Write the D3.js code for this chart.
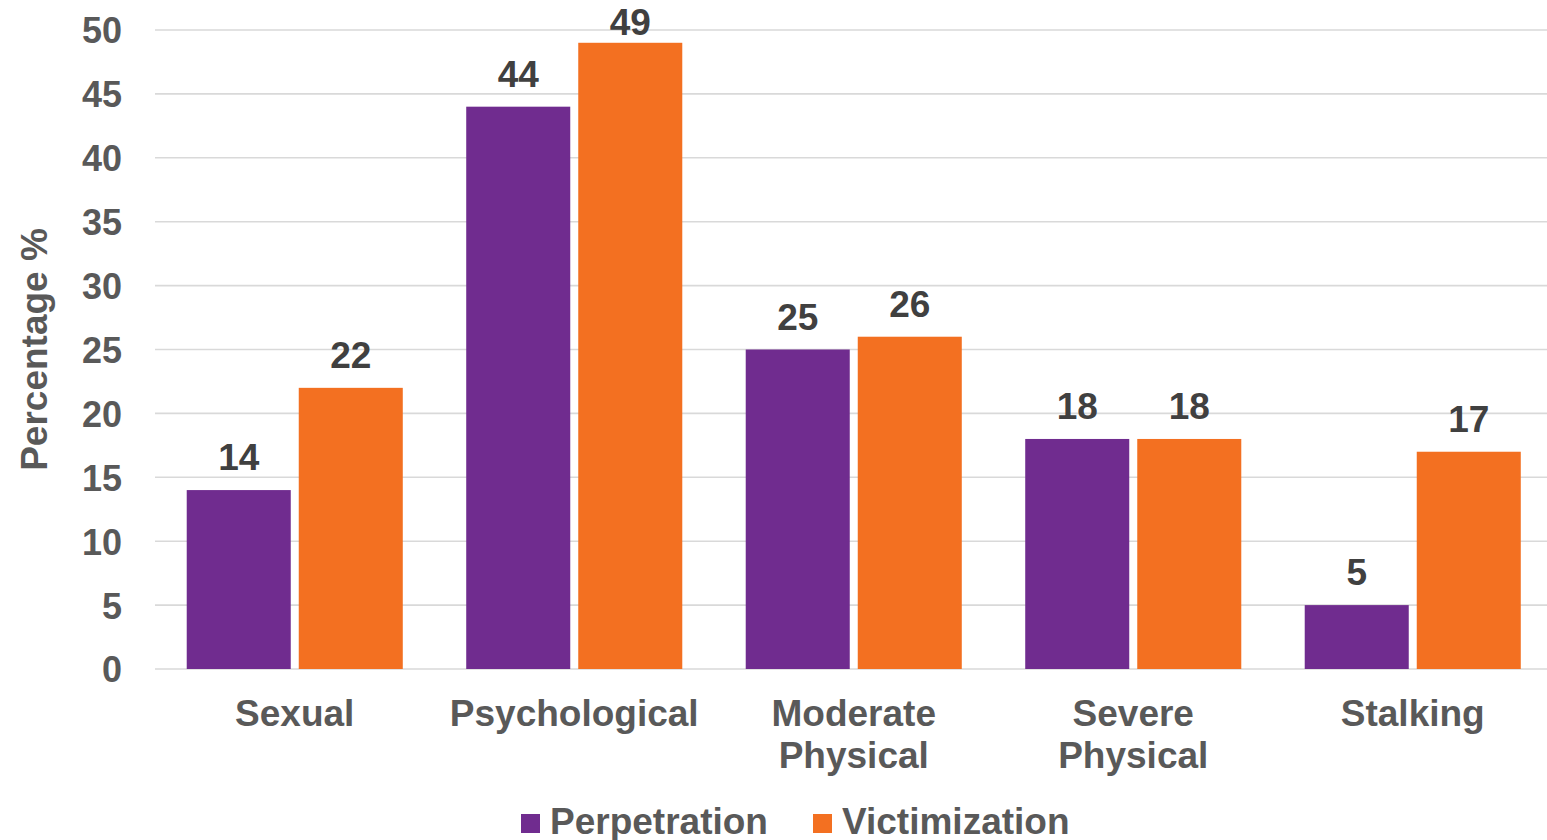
<!DOCTYPE html>
<html>
<head>
<meta charset="utf-8">
<script src="https://cdn.jsdelivr.net/npm/d3@7"></script>
<style>
  html, body { margin: 0; padding: 0; background: #fff; }
  svg { display: block; font-family: Arial, "Liberation Sans", sans-serif; font-weight: bold; }
</style>
</head>
<body>
<svg id="chart" width="1547" height="840"></svg>
<script>
// Abuse types and prevalence (%) by role
const categories = [["Sexual"], ["Psychological"], ["Moderate", "Physical"], ["Severe", "Physical"], ["Stalking"]];
const seriesNames = ["Perpetration", "Victimization"];
const perpetration = [14, 44, 25, 18, 5];
const victimization = [22, 49, 26, 18, 17];
const yTicks = [0, 5, 10, 15, 20, 25, 30, 35, 40, 45, 50];
const colors = ["#702C8F", "#F37021"];

const svg = d3.select("#chart");
const plot = { left: 155, right: 1552.5, top: 30, bottom: 669 };

const catKeys = categories.map(c => c.join(" "));
const values = [perpetration, victimization];

const x0 = d3.scaleBand()
  .domain(catKeys)
  .range([plot.left, plot.right])
  .paddingInner(0.227)
  .paddingOuter(0.1135);

const x1 = d3.scaleBand()
  .domain(seriesNames)
  .range([0, x0.bandwidth()])
  .paddingInner(0.0714);

const y = d3.scaleLinear().domain([0, 50]).range([plot.bottom, plot.top]);

// Gridlines
svg.append("g")
  .selectAll("line")
  .data(yTicks)
  .join("line")
  .attr("x1", plot.left).attr("x2", 1547)
  .attr("y1", d => y(d)).attr("y2", d => y(d))
  .attr("stroke", "#D9D9D9")
  .attr("stroke-width", 1.6);

// Y axis tick labels
const yAxis = d3.axisLeft(y).tickValues(yTicks).tickSize(0).tickPadding(0);
const yg = svg.append("g").attr("transform", "translate(122,0)").call(yAxis);
yg.select(".domain").remove();
yg.selectAll("text")
  .attr("font-family", "Arial, 'Liberation Sans', sans-serif")
  .attr("font-weight", "bold")
  .attr("font-size", 36)
  .attr("fill", "#595959")
  .attr("dy", "0.36em");

// Y axis title
svg.append("text")
  .attr("transform", `translate(47,${(plot.top + plot.bottom) / 2}) rotate(-90)`)
  .attr("text-anchor", "middle")
  .attr("font-size", 37)
  .attr("fill", "#595959")
  .text("Percentage %");

// Bars
const groups = svg.append("g")
  .selectAll("g")
  .data(catKeys)
  .join("g")
  .attr("transform", d => `translate(${x0(d)},0)`);

groups.each(function(cat, ci) {
  const g = d3.select(this);
  seriesNames.forEach((s, si) => {
    const v = values[si][ci];
    g.append("rect")
      .attr("x", x1(s))
      .attr("y", y(v))
      .attr("width", x1.bandwidth())
      .attr("height", y(0) - y(v))
      .attr("fill", colors[si]);
    g.append("text")
      .attr("x", x1(s) + x1.bandwidth() / 2)
      .attr("y", Math.max(y(v) - 20, 35))
      .attr("text-anchor", "middle")
      .attr("font-size", 37)
      .attr("fill", "#404040")
      .text(v);
  });
});

// Category labels
const xg = svg.append("g");
categories.forEach((lines, i) => {
  const cx = x0(catKeys[i]) + x0.bandwidth() / 2;
  const t = xg.append("text")
    .attr("x", cx)
    .attr("y", 726)
    .attr("text-anchor", "middle")
    .attr("font-size", 37)
    .attr("fill", "#595959");
  lines.forEach((ln, j) => {
    t.append("tspan")
      .attr("x", cx)
      .attr("dy", j === 0 ? 0 : 42)
      .text(ln);
  });
});

// Legend
const legendItems = [
  { name: seriesNames[0], color: colors[0], x: 521 },
  { name: seriesNames[1], color: colors[1], x: 813 }
];
const lg = svg.append("g");
legendItems.forEach(it => {
  lg.append("rect")
    .attr("x", it.x).attr("y", 814)
    .attr("width", 19).attr("height", 19)
    .attr("fill", it.color);
  lg.append("text")
    .attr("x", it.x + 29).attr("y", 834)
    .attr("font-size", 37)
    .attr("fill", "#595959")
    .text(it.name);
});
</script>
</body>
</html>
